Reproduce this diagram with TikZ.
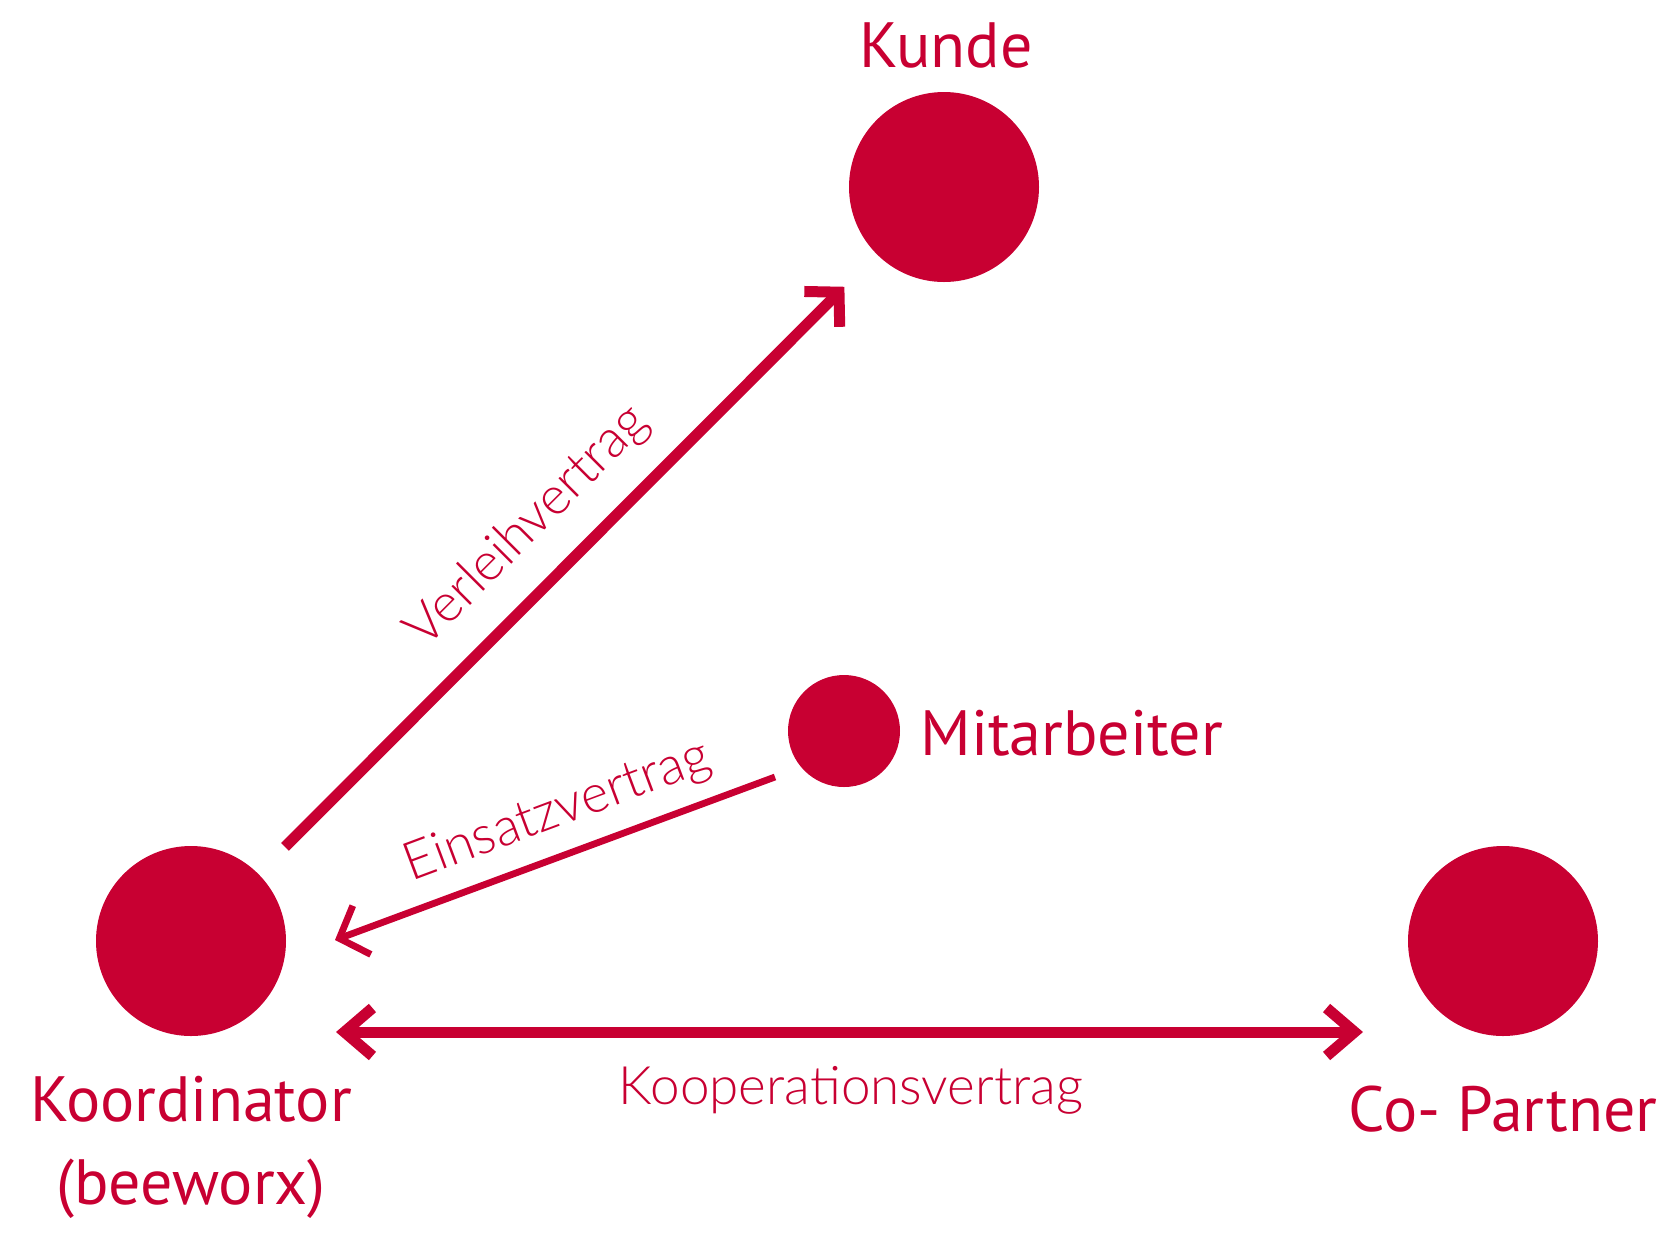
\documentclass[tikz,border=0pt]{standalone}
\usepackage{fontspec}
\setmainfont{PT Sans}
\newfontfamily\thinfont{Lato Light}
\usetikzlibrary{positioning,arrows.meta}
\definecolor{bxred}{RGB}{200,0,50}

\begin{document}
\begin{tikzpicture}[
  x=0.5pt, y=-0.5pt,
  party/.style={circle, fill=bxred, inner sep=0pt, outer sep=0pt, minimum size=95pt},
  worker/.style={circle, fill=bxred, inner sep=0pt, outer sep=0pt, minimum size=56pt},
  lbl/.style={text=bxred, font=\fontsize{32}{41.5}\selectfont, align=center, inner sep=0pt},
  contract/.style={text=bxred, font=\thinfont\fontsize{26.5}{30}\selectfont, inner sep=0pt},
  link/.style={draw=bxred, line width=5.5pt, -{Straight Barb[sharp, length=12pt, width=25pt]}},
  thinlink/.style={draw=bxred, line width=3.4pt, -{Straight Barb[sharp, length=12pt, width=26pt]}},
  duallink/.style={draw=bxred, line width=5.5pt, {Straight Barb[sharp, length=14pt, width=24pt]}-{Straight Barb[sharp, length=14pt, width=24pt]}},
]
\useasboundingbox (0,0) rectangle (1667,1250);

% parties
\node[party] (kunde) at (944,187) {};
\node[worker] (mit) at (844,731) {};
\node[party] (koord) at (191,941) {};
\node[party] (copart) at (1503,941) {};

\node[lbl] (kundeL) at (946,45) {Kunde};
\node[lbl, anchor=west] (mitL) at (920,733) {Mitarbeiter};
\node[lbl] (koordL) at (191,1147) {Koordinator\\(beeworx)};
\node[lbl] (copartL) at (1503,1109) {Co- Partner};

% contracts
\coordinate (einS) at (775,777);
\coordinate (einE) at (335,940);
\coordinate (koopS) at (336,1032);
\coordinate (koopE) at (1363,1032);

\draw[link, shorten <=19pt, shorten >=23pt] (koord) -- (kunde);
\draw[thinlink] (einS) -- (einE);
\draw[duallink] (koopS) -- (koopE);

\node[contract, rotate=45] (verleihL) at (528,527) {Verleihvertrag};
\node[contract, rotate=20.5] (einsatzL) at (558,812) {Einsatzvertrag};
\node[contract] (koopL) at (851,1090) {Kooperationsvertrag};

\end{tikzpicture}
\end{document}
